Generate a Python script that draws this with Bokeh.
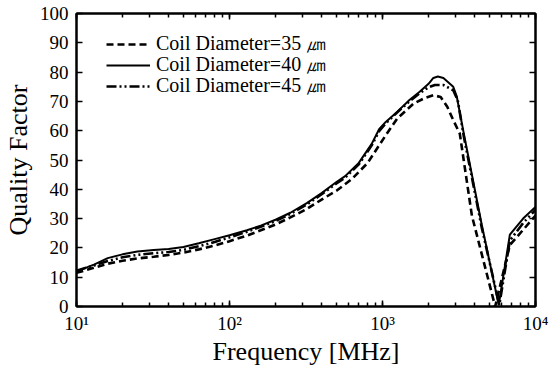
from bokeh.plotting import figure
from bokeh.models import (Legend, LegendItem, LinearAxis, LogAxis, SingleIntervalTicker,
                          LogTicker, Range1d, CustomJSTickFormatter)
from bokeh.embed import file_html
from bokeh.resources import INLINE

# ---- data ----
freq_35 = [10, 13, 16, 20, 25, 32, 40, 50, 63, 80, 100, 130, 160, 200, 250, 320, 400, 500,
           630, 800, 950, 1100, 1250, 1600, 1900, 2150, 2400, 2650, 2900, 3200, 3840, 5450,
           6800, 10000]
q_35 = [11.5, 13.2, 14.6, 15.6, 16.4, 17.0, 17.6, 18.4, 19.5, 20.8, 22.3, 24.2, 26.0, 28.0,
        30.4, 33.3, 36.5, 39.5, 43.5, 49.0, 55.0, 60.0, 64.2, 69.3, 71.2, 72.1, 71.5, 68.2,
        63.6, 59.0, 31.0, 0.0, 21.0, 31.0]

freq_40 = [10, 13, 16, 20, 25, 32, 40, 50, 63, 80, 100, 130, 160, 200, 250, 320, 400, 500,
           570, 700, 850, 950, 1050, 1250, 1500, 1750, 2000, 2150, 2300, 2500, 2900, 3060,
           3400, 4450, 5750, 6800, 8300, 10000]
q_40 = [12.0, 14.3, 16.5, 17.8, 18.8, 19.3, 19.6, 20.3, 21.6, 23.0, 24.3, 26.0, 27.6, 29.6,
        32.0, 35.3, 38.7, 42.5, 44.5, 49.0, 55.5, 60.5, 63.0, 66.5, 70.5, 73.3, 76.0, 78.0,
        78.5, 78.0, 75.0, 71.6, 59.0, 28.0, 0.5, 24.5, 30.0, 34.0]

freq_45 = [10, 13, 16, 20, 25, 32, 40, 50, 63, 80, 100, 130, 160, 200, 250, 320, 400, 500,
           570, 700, 850, 950, 1050, 1250, 1500, 1750, 2000, 2200, 2500, 2900, 3100, 3400,
           4450, 5800, 6800, 8300, 10000]
q_45 = [12.2, 14.0, 15.5, 16.8, 17.6, 18.2, 18.6, 19.3, 20.6, 22.0, 23.6, 25.5, 27.2, 29.2,
        31.6, 34.8, 38.3, 42.0, 44.0, 48.5, 55.0, 59.8, 62.5, 66.3, 70.0, 72.8, 74.8, 75.6,
        75.6, 73.8, 70.5, 58.0, 27.0, 0.5, 22.5, 28.5, 33.0]

series_labels = ["Coil Diameter=35 \u339b", "Coil Diameter=40 \u339b", "Coil Diameter=45 \u339b"]
x_tick_values = [10, 100, 1000, 10000]
x_tick_labels = ["10\u00b9", "10\u00b2", "10\u00b3", "10\u2074"]
x_title = "Frequency [MHz]"
y_title = "Quality Factor"

FONT = "Liberation Serif"

p = figure(x_axis_type="log", x_range=Range1d(10, 10000), y_range=Range1d(0, 100),
           frame_width=459, frame_height=293,
           min_border_left=70, min_border_right=16, min_border_top=7, min_border_bottom=0,
           output_backend="svg", toolbar_location=None, background_fill_color="white",
           border_fill_color="white")
p.xgrid.visible = False
p.ygrid.visible = False
p.outline_line_color = "black"
p.outline_line_width = 2

r35 = p.line(freq_35, q_35, line_color="black", line_width=2.6, line_dash="7 4")
r40 = p.line(freq_40, q_40, line_color="black", line_width=2)
r45 = p.line(freq_45, q_45, line_color="black", line_width=2.6, line_dash="10 3 2 3 2 3")

xa = p.xaxis[0]
xa.ticker = LogTicker(num_minor_ticks=10)
xa.major_label_overrides = dict(zip(x_tick_values, x_tick_labels))
ya = p.yaxis[0]
ya.ticker = SingleIntervalTicker(interval=10, num_minor_ticks=0)

for ax in (xa, ya):
    ax.axis_line_width = 2
    ax.axis_line_color = "black"
    ax.major_tick_in = 6
    ax.major_tick_out = 0
    ax.minor_tick_in = 4
    ax.minor_tick_out = 0
    ax.major_tick_line_width = 1.5
    ax.minor_tick_line_width = 1.5
    ax.major_tick_line_color = "black"
    ax.minor_tick_line_color = "black"
    ax.major_label_text_font = FONT
    ax.major_label_text_font_size = "19px"
    ax.major_label_text_color = "black"
    ax.major_label_text_line_height = 0.9
    ax.axis_label_text_font = FONT
    ax.axis_label_text_font_size = "26px"
    ax.axis_label_text_font_style = "normal"
    ax.axis_label_text_color = "black"
    ax.axis_label_text_line_height = 0.9

xa.axis_label = x_title
xa.major_label_standoff = 6
xa.axis_label_standoff = 0
ya.axis_label = y_title
ya.major_label_standoff = 8
ya.axis_label_standoff = 4

blank = CustomJSTickFormatter(code="return '';")
top = LogAxis(ticker=LogTicker(num_minor_ticks=10), formatter=blank,
              major_tick_in=6, major_tick_out=0, minor_tick_in=4, minor_tick_out=0,
              major_tick_line_width=1.5, minor_tick_line_width=1.5,
              axis_line_width=2, major_label_standoff=0,
              axis_label=" ", axis_label_text_font_size="9px", axis_label_standoff=0,
              axis_label_text_line_height=1.0)
p.add_layout(top, "above")
right = LinearAxis(ticker=SingleIntervalTicker(interval=10, num_minor_ticks=0), formatter=blank,
                   major_tick_in=6, major_tick_out=0, minor_tick_in=0, minor_tick_out=0,
                   major_tick_line_width=1.5, axis_line_width=2, major_label_standoff=0)
p.add_layout(right, "right")

# one single-row legend per series, so that the rows sit at the reference's spacing
legend_rows = [(r35, 249), (r40, 228), (r45, 207)]
for (renderer, y_off), label in zip(legend_rows, series_labels):
    lg = Legend(items=[LegendItem(label=label, renderers=[renderer])],
                location=(30, y_off), label_text_font=FONT, label_text_font_size="20px",
                label_text_line_height=0.9,
                label_text_color="black", glyph_width=44, glyph_height=20, label_height=20,
                spacing=0, padding=0, margin=0, label_standoff=6,
                border_line_alpha=0, background_fill_alpha=0)
    p.add_layout(lg)

open("out.html", "w").write(file_html(p, INLINE))
